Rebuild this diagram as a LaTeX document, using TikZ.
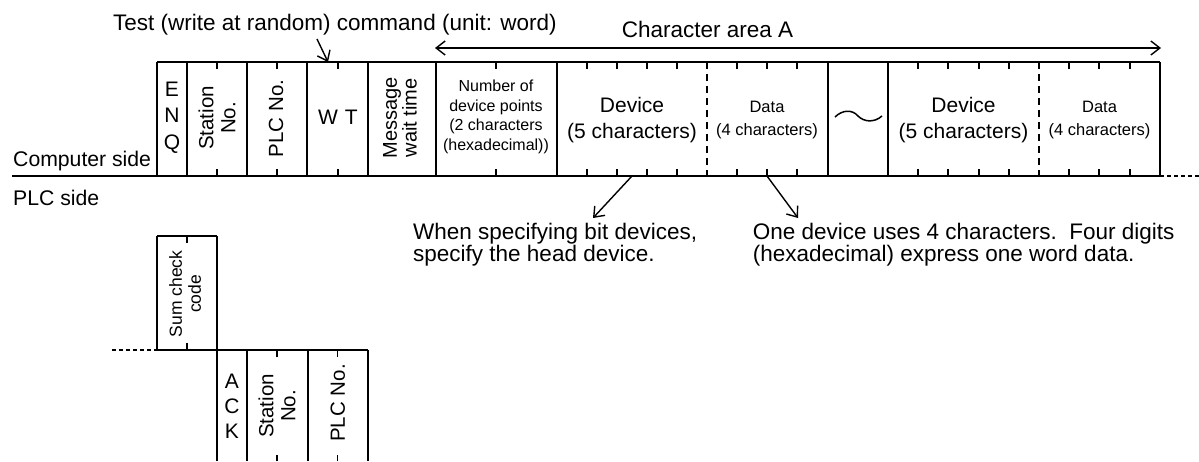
\documentclass[tikz,border=0pt]{standalone}
\usepackage{fontspec}
\setmainfont{Liberation Sans}
\usetikzlibrary{arrows.meta}
\tikzset{
  frame/.style={line width=1.9pt},
  tickline/.style={line width=1.5pt},
  divider/.style={line width=1.6pt, dash pattern=on 7pt off 5pt},
  dotline/.style={line width=1.6pt, dash pattern=on 4pt off 3pt},
  ptr/.style={line width=1.4pt, -{Straight Barb[length=9pt,width=14pt]}},
  lbl/.style={inner sep=0pt, anchor=base west},
  vtxt/.style={rotate=90, align=center, inner sep=0pt},
  ctxt/.style={align=center, inner sep=0pt},
}
\begin{document}
\begin{tikzpicture}[x=1pt,y=-1pt]
\useasboundingbox (0,0) rectangle (1199,461);

% ---------- top labels ----------
\node[lbl, font=\fontsize{22.5}{24}\selectfont] (test) at (113,30) {Test (write at random) command (unit: word)};
\node[lbl, font=\fontsize{22.5}{24}\selectfont] (area) at (621.7,37) {Character area A};
\coordinate (testfrom) at (317,39);
\coordinate (wttop) at (328,62);
\draw[ptr] (testfrom) -- (wttop);
\coordinate (caL) at (435,48);
\coordinate (caR) at (1161,48);
\draw[line width=1.4pt, {Straight Barb[length=9pt,width=14pt]}-{Straight Barb[length=9pt,width=14pt]}] (caL) -- (caR);

% ---------- side labels ----------
\node[lbl, font=\fontsize{21.2}{24}\selectfont] (comp) at (13,166.7) {Computer side};
\node[lbl, font=\fontsize{21.2}{24}\selectfont] (plc) at (13,205) {PLC side};

% ---------- computer side frame ----------
\draw[frame] (12,176) -- (1160,176);
\draw[dotline] (1160,176) -- (1199,176);
\draw[frame] (157,62) -- (1160,62);
\foreach \x in {157,187,247,307,368,436,557,828,888,1160}
  \draw[frame] (\x,62) -- (\x,176);
\foreach \x in {707,1039}
  \draw[divider] (\x,62) -- (\x,176);
\foreach \x in {217,277,338,496,587,617,647,677,737,767,797,918,948,979,1009,1069,1099,1130}{
  \draw[tickline] (\x,62) -- ++(0,7);
  \draw[tickline] (\x,176) -- ++(0,-7);
}

% texts in frame
\node[ctxt, font=\fontsize{21}{26.5}\selectfont] (enq) at (172,117.5) {E\\N\\Q};
\node[vtxt, font=\fontsize{20.5}{22}\selectfont] (stn) at (217,118) {Station\\No.};
\node[vtxt, font=\fontsize{20.5}{22}\selectfont] (plcno) at (276,118.5) {PLC No.};
\node[ctxt, font=\fontsize{21}{24}\selectfont] (wt) at (338,117.5) {W\,\,T};
\node[vtxt, font=\fontsize{20}{18}\selectfont] (msg) at (400,117.7) {Message\\wait time};
\node[ctxt, font=\fontsize{16}{19.5}\selectfont] (npts) at (496,117) {Number of\\device points\\(2 characters\\(hexadecimal))};
\node[ctxt, font=\fontsize{21}{26}\selectfont] (dev1) at (632,120) {Device\\(5 characters)};
\node[ctxt, font=\fontsize{16.5}{23}\selectfont] (dat1) at (767,120) {Data\\(4 characters)};
\node[ctxt, font=\fontsize{21}{26}\selectfont] (dev2) at (963.5,120) {Device\\(5 characters)};
\node[ctxt, font=\fontsize{16.5}{23}\selectfont] (dat2) at (1099.5,120) {Data\\(4 characters)};
\draw[line width=1.5pt] (835,117) .. controls (842,110) and (852,109) .. (858,116)
  .. controls (864,122) and (874,123) .. (882,116);

% ---------- annotations ----------
\coordinate (devbot) at (632,176);
\coordinate (devtip) at (593,218);
\coordinate (datbot) at (767,176);
\coordinate (dattip) at (798,218);
\draw[ptr] (devbot) -- (devtip);
\draw[ptr] (datbot) -- (dattip);
\node[lbl, align=left, font=\fontsize{22.5}{18}\selectfont] (note1) at (413,261) {When specifying bit devices,\\specify the head device.};
\node[lbl, align=left, font=\fontsize{22.5}{18}\selectfont] (note2) at (752.7,261) {One device uses 4 characters.\ \ Four digits\\(hexadecimal) express one word data.};

% ---------- PLC side ----------
\draw[dotline] (112,350) -- (157,350);
\draw[frame] (157,236) -- (217,236);
\draw[frame] (157,236) -- (157,350);
\draw[frame] (217,236) -- (217,461);
\draw[frame] (157,350) -- (367.7,350);
\foreach \x in {247,307.7,367.7}
  \draw[frame] (\x,350) -- (\x,461);
\draw[tickline] (187,236) -- ++(0,7);
\draw[tickline] (187,350) -- ++(0,-7);
\foreach \x in {277,337.7}{
  \draw[tickline] (\x,350) -- ++(0,7);
  \draw[tickline] (\x,461) -- ++(0,-6);
}
\node[vtxt, font=\fontsize{17.5}{19}\selectfont] (sum) at (185,294) {Sum check\\code};
\node[ctxt, font=\fontsize{21}{25}\selectfont] (ack) at (232,406) {A\\C\\K};
\node[vtxt, font=\fontsize{20.5}{22}\selectfont] (stn2) at (277,406) {Station\\No.};
\node[vtxt, font=\fontsize{20.5}{22}\selectfont] (plcno2) at (337.7,403) {PLC No.};
\end{tikzpicture}
\end{document}
